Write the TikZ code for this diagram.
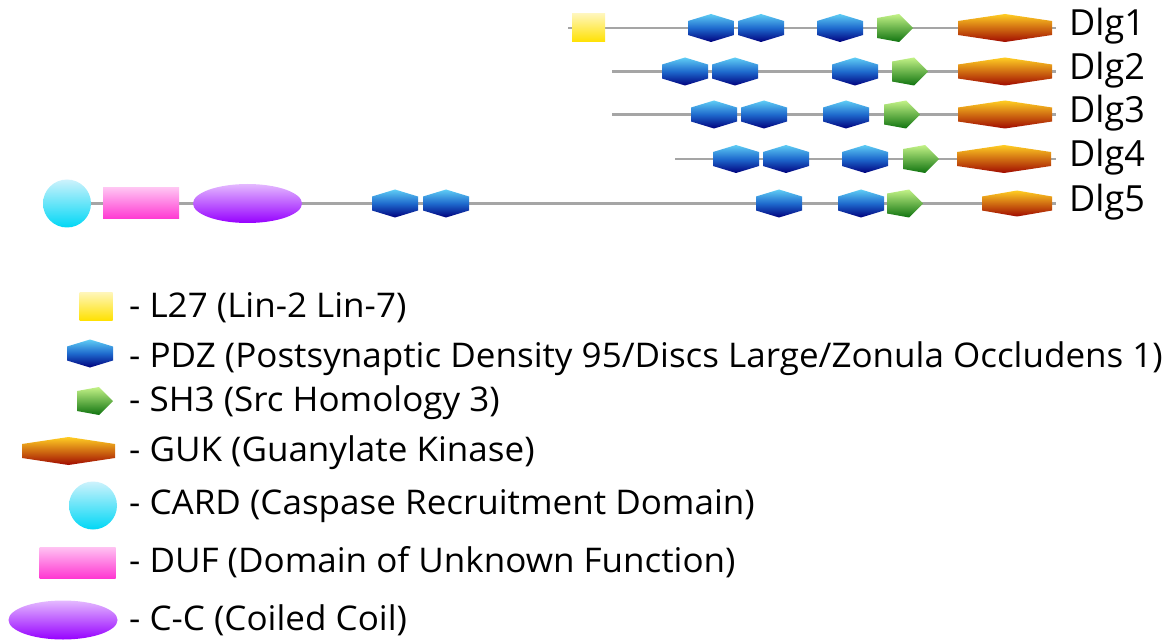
\documentclass[tikz,border=0pt]{standalone}
\usepackage{fontspec}
\setmainfont{Open Sans}
\newfontfamily\legfont{Open Sans}[FakeStretch=1.03]
\usetikzlibrary{calc}

\definecolor{linegray}{RGB}{165,165,165}
\definecolor{pdztop}{RGB}{95,205,245}
\definecolor{pdzmid}{RGB}{30,105,205}
\definecolor{pdzbot}{RGB}{0,0,125}
\definecolor{shtop}{RGB}{195,242,135}
\definecolor{shbot}{RGB}{15,115,15}
\definecolor{guktop}{RGB}{255,205,35}
\definecolor{gukbot}{RGB}{160,10,0}
\definecolor{ltop}{RGB}{255,246,185}
\definecolor{lbot}{RGB}{255,225,0}
\definecolor{cardtop}{RGB}{205,242,252}
\definecolor{cardbot}{RGB}{0,215,245}
\definecolor{duftop}{RGB}{255,195,242}
\definecolor{dufbot}{RGB}{255,55,210}
\definecolor{cctop}{RGB}{228,185,255}
\definecolor{ccbot}{RGB}{150,0,255}

\tikzset{
  backbone/.style={draw=linegray, line width=2.6pt},
  pdzfill/.style={top color=pdztop, bottom color=pdzbot, middle color=pdzmid},
  shfill/.style={top color=shtop, bottom color=shbot},
  gukfill/.style={top color=guktop, bottom color=gukbot},
  lfill/.style={top color=ltop, bottom color=lbot},
  cardfill/.style={top color=cardtop, bottom color=cardbot},
  duffill/.style={top color=duftop, bottom color=dufbot},
  ccfill/.style={top color=cctop, bottom color=ccbot},
  dlglabel/.style={anchor=base west, inner sep=0pt, font=\fontsize{36}{40}\selectfont},
  legtext/.style={anchor=base west, inner sep=0pt, font=\legfont\fontsize{34}{38}\selectfont},
}

% domain glyphs, each drawn around a named coordinate
\newcommand\pdzat[1]{\shade[pdzfill, shift={(#1)}] (-23,7) -- (0,14) -- (23,7) -- (23,-7) -- (0,-14) -- (-23,-7) -- cycle;}
\newcommand\shat[1]{\shade[shfill, shift={(#1)}] (-18,10) -- (4,14) -- (18,0) -- (4,-14) -- (-18,-10) -- cycle;}
\newcommand\gukat[3]{\shade[gukfill, shift={(#1)}] (-#2,7) -- (0,#3) -- (#2,7) -- (#2,-7) -- (0,-#3) -- (-#2,-7) -- cycle;}
\newcommand\lat[1]{\shade[lfill, shift={(#1)}] (-16.5,-14) rectangle (16.5,14);}
\newcommand\cardat[1]{\shade[cardfill, shift={(#1)}] (0,0) circle (24);}
\newcommand\dufat[1]{\shade[duffill, shift={(#1)}] (-38,-15.5) rectangle (38,15.5);}
\newcommand\ccat[1]{\shade[ccfill, shift={(#1)}] (0,0) ellipse (54.5 and 19.5);}

\begin{document}
\begin{tikzpicture}[x=1pt, y=1pt]
\useasboundingbox (0,0) rectangle (1172,641);

% ---------- Dlg1 ----------
\coordinate (r1s) at (568,613);
\coordinate (r1e) at (1056,613);
\draw[backbone] (r1s) -- (r1e);
\coordinate (r1l) at (588.5,613);  \lat{r1l}
\coordinate (r1p1) at (711,613);   \pdzat{r1p1}
\coordinate (r1p2) at (761,613);   \pdzat{r1p2}
\coordinate (r1p3) at (840,613);   \pdzat{r1p3}
\coordinate (r1s3) at (895,613);   \shat{r1s3}
\coordinate (r1g) at (1005,613);   \gukat{r1g}{47}{14}
\node[dlglabel] (dlg1) at (1069,605) {Dlg1};

% ---------- Dlg2 ----------
\coordinate (r2s) at (612,569.5);
\coordinate (r2e) at (1056,569.5);
\draw[backbone] (r2s) -- (r2e);
\coordinate (r2p1) at (685,569.5); \pdzat{r2p1}
\coordinate (r2p2) at (735,569.5); \pdzat{r2p2}
\coordinate (r2p3) at (855,569.5); \pdzat{r2p3}
\coordinate (r2s3) at (910,569.5); \shat{r2s3}
\coordinate (r2g) at (1005,569.5); \gukat{r2g}{47}{14}
\node[dlglabel] (dlg2) at (1069,561.5) {Dlg2};

% ---------- Dlg3 ----------
\coordinate (r3s) at (612,526.5);
\coordinate (r3e) at (1056,526.5);
\draw[backbone] (r3s) -- (r3e);
\coordinate (r3p1) at (714,526.5); \pdzat{r3p1}
\coordinate (r3p2) at (764,526.5); \pdzat{r3p2}
\coordinate (r3p3) at (846,526.5); \pdzat{r3p3}
\coordinate (r3s3) at (902,526.5); \shat{r3s3}
\coordinate (r3g) at (1005,526.5); \gukat{r3g}{47}{14}
\node[dlglabel] (dlg3) at (1069,518.5) {Dlg3};

% ---------- Dlg4 ----------
\coordinate (r4s) at (675,482);
\coordinate (r4e) at (1056,482);
\draw[backbone] (r4s) -- (r4e);
\coordinate (r4p1) at (736,482);   \pdzat{r4p1}
\coordinate (r4p2) at (786,482);   \pdzat{r4p2}
\coordinate (r4p3) at (865,482);   \pdzat{r4p3}
\coordinate (r4s3) at (921,482);   \shat{r4s3}
\coordinate (r4g) at (1004,482);   \gukat{r4g}{47}{14}
\node[dlglabel] (dlg4) at (1069,474) {Dlg4};

% ---------- Dlg5 ----------
\coordinate (r5c) at (67,437.5);
\coordinate (r5e) at (1056,437.5);
\draw[backbone] (r5c) -- (r5e);
\cardat{r5c}
\coordinate (r5d) at (141,437.5);  \dufat{r5d}
\coordinate (r5cc) at (247.5,437.5); \ccat{r5cc}
\coordinate (r5p1) at (395,437.5); \pdzat{r5p1}
\coordinate (r5p2) at (446,437.5); \pdzat{r5p2}
\coordinate (r5p3) at (779,437.5); \pdzat{r5p3}
\coordinate (r5p4) at (861,437.5); \pdzat{r5p4}
\coordinate (r5s3) at (905,437.5); \shat{r5s3}
\coordinate (r5g) at (1017,437.5); \gukat{r5g}{35}{13}
\node[dlglabel] (dlg5) at (1069,429.5) {Dlg5};

% ---------- legend ----------
\coordinate (kl) at (96,334.5);    \lat{kl}
\coordinate (kp) at (90,287.5);    \pdzat{kp}
\coordinate (ks) at (95,240);      \shat{ks}
\coordinate (kg) at (68.5,190);    \gukat{kg}{46.5}{14}
\coordinate (kc) at (93,135.5);    \cardat{kc}
\coordinate (kd) at (77.5,78.5);   \dufat{kd}
\coordinate (kcc) at (63,21);      \ccat{kcc}

\node[legtext] (tl)  at (129,324) {- L27 (Lin-2 Lin-7)};
\node[legtext] (tp)  at (129,274) {- PDZ (Postsynaptic Density 95/Discs Large/Zonula Occludens 1)};
\node[legtext] (ts)  at (129,230) {- SH3 (Src Homology 3)};
\node[legtext] (tg)  at (129,180) {- GUK (Guanylate Kinase)};
\node[legtext] (tc)  at (129,127) {- CARD (Caspase Recruitment Domain)};
\node[legtext] (td)  at (129,69)  {- DUF (Domain of Unknown Function)};
\node[legtext] (tcc) at (129,11)  {- C-C (Coiled Coil)};
\end{tikzpicture}
\end{document}
